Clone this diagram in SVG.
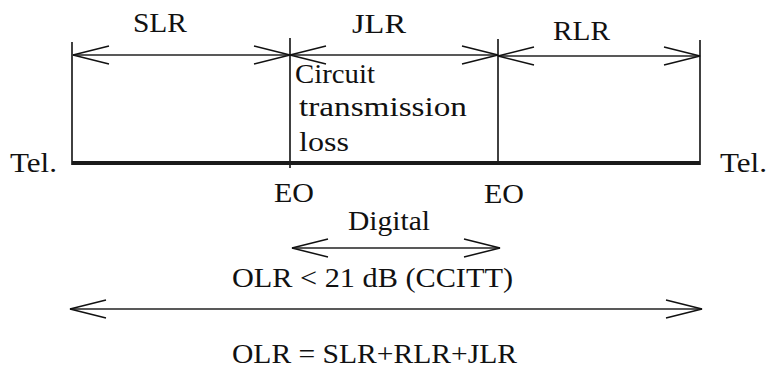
<svg xmlns="http://www.w3.org/2000/svg" width="773" height="368" viewBox="0 0 773 368">
<defs>
<style>
text{font-family:'Liberation Serif','Times New Roman',serif;font-size:27px;fill:#111}
.v{stroke:#111;stroke-width:1.6;fill:none}
.a{stroke:#222;stroke-width:1.3;fill:none;marker-start:url(#ah);marker-end:url(#ah)}
.bus{stroke:#1a1a1a;stroke-width:4;fill:none}
</style>
<marker id="ah" viewBox="0 0 38 22" refX="37" refY="11" markerWidth="38" markerHeight="22" markerUnits="userSpaceOnUse" orient="auto-start-reverse">
<polyline points="1,2 37,11 1,20" fill="none" stroke="#111" stroke-width="1.5"/>
</marker>
</defs>
<rect width="773" height="368" fill="#fff"/>
<g id="line-structure">
<line class="v" x1="72" y1="42" x2="72" y2="165"/>
<line class="v" x1="290" y1="38" x2="290" y2="168"/>
<line class="v" x1="498" y1="39" x2="498" y2="165"/>
<line class="v" x1="700" y1="40" x2="700" y2="165"/>
<line class="bus" x1="72" y1="163" x2="700" y2="163"/>
</g>
<g id="tel-left"><text x="10" y="172" textLength="47" lengthAdjust="spacingAndGlyphs">Tel.</text></g>
<g id="tel-right"><text x="720" y="172" textLength="47" lengthAdjust="spacingAndGlyphs">Tel.</text></g>
<g id="eo-left"><text x="274" y="202" textLength="40" lengthAdjust="spacingAndGlyphs">EO</text></g>
<g id="eo-right"><text x="484" y="203" textLength="40" lengthAdjust="spacingAndGlyphs">EO</text></g>
<g id="slr"><text x="133" y="32" textLength="54" lengthAdjust="spacingAndGlyphs">SLR</text></g>
<g id="jlr"><text x="352" y="33" textLength="54" lengthAdjust="spacingAndGlyphs">JLR</text>
<text x="295" y="83" textLength="80" lengthAdjust="spacingAndGlyphs">Circuit</text>
<text x="299" y="116" textLength="168" lengthAdjust="spacingAndGlyphs">transmission</text>
<text x="299" y="151" textLength="50" lengthAdjust="spacingAndGlyphs">loss</text></g>
<g id="rlr"><text x="553" y="40" textLength="57" lengthAdjust="spacingAndGlyphs">RLR</text></g>
<g id="digital"><text x="348" y="230" textLength="82" lengthAdjust="spacingAndGlyphs">Digital</text></g>
<g id="olr-limit"><text x="232" y="287" textLength="281" lengthAdjust="spacingAndGlyphs">OLR &lt; 21 dB (CCITT)</text></g>
<g id="olr-formula"><text x="232" y="363" textLength="285" lengthAdjust="spacingAndGlyphs">OLR = SLR+RLR+JLR</text></g>
<g id="connectors">
<line class="a" x1="73" y1="55" x2="290" y2="55"/>
<line class="a" x1="290" y1="55" x2="498" y2="55"/>
<line class="a" x1="498" y1="56" x2="700" y2="56"/>
<line class="a" x1="292" y1="248" x2="500" y2="248"/>
<line class="a" x1="70" y1="309" x2="702" y2="309"/>
</g>
</svg>
